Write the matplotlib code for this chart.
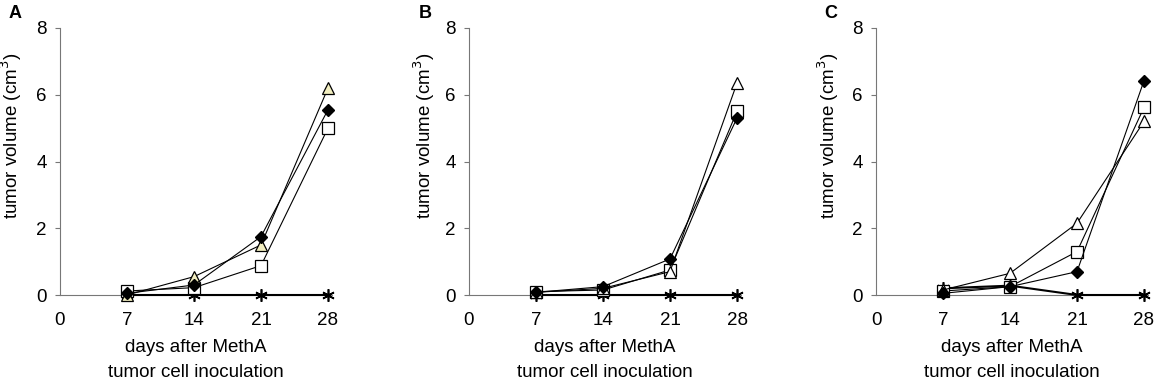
import numpy as np
import matplotlib
matplotlib.use("Agg")
import matplotlib.pyplot as plt

plt.rcParams["font.family"] = ["Liberation Sans", "DejaVu Sans"]

days = [7, 14, 21, 28]
xticks = [0, 7, 14, 21, 28]
yticks = [0, 2, 4, 6, 8]

# panel A
a_diamond = [0.05, 0.30, 1.75, 5.55]
a_triangle = [0.00, 0.55, 1.50, 6.20]
a_square = [0.12, 0.22, 0.88, 5.00]
a_star = [0.0, 0.0, 0.0, 0.0]
# panel B
b_diamond = [0.08, 0.25, 1.08, 5.30]
b_triangle = [0.08, 0.20, 0.70, 6.35]
b_square = [0.10, 0.15, 0.75, 5.50]
b_star = [0.0, 0.0, 0.0, 0.0]
# panel C
c_diamond = [0.05, 0.25, 0.70, 6.42]
c_triangle = [0.15, 0.65, 2.15, 5.20]
c_square = [0.12, 0.25, 1.30, 5.62]
c_star = [0.20, 0.28, 0.0, 0.0]

panels = [
    ("A", a_diamond, a_triangle, a_square, a_star, "#f2eec0", 60, -36, 15),
    ("B", b_diamond, b_triangle, b_square, b_star, "white", 469, -32, 425),
    ("C", c_diamond, c_triangle, c_square, c_star, "white", 876, -35, 831),
]

W, H = 1158, 386
fig = plt.figure(figsize=(W / 100, H / 100), dpi=100)
px_day = 268 / 28.0
xmax = 28.4
for letter, dia, tri, sq, st, tri_col, x0, ylab_dx, lx in panels:
    ax = fig.add_axes([x0 / W, (H - 295) / H, xmax * px_day / W, 267 / H])
    ax.plot(days, st, "-", color="black", lw=1.5, marker=(6, 2, 0), ms=9, mew=1.2, zorder=3)
    ax.plot(days, sq, "-", color="black", lw=0.8, marker="s", ms=8, mfc="white", mec="black", mew=0.9, zorder=4)
    ax.plot(days, tri, "-", color="black", lw=0.8, marker="^", ms=9, mfc=tri_col, mec="black", mew=0.9, zorder=4)
    ax.plot(days, dia, "-", color="black", lw=0.8, marker="D", ms=6, mfc="black", mec="black", zorder=5)
    ax.set_xlim(0, xmax)
    ax.set_ylim(0, 8)
    ax.set_xticks(xticks)
    ax.set_yticks(yticks)
    ax.tick_params(axis="x", length=0, pad=12, labelsize=13.5)
    ax.tick_params(axis="y", length=3.5, width=0.8, color="#777777", pad=6, labelsize=13.5)
    for s in ["top", "right"]:
        ax.spines[s].set_visible(False)
    for s in ["left", "bottom"]:
        ax.spines[s].set_color("#777777")
        ax.spines[s].set_linewidth(0.8)
    ax.set_ylabel("tumor volume (cm$^3$)", fontsize=13.5)
    ax.yaxis.set_label_coords(ylab_dx / (xmax * px_day), 0.595)
    ax.text(0.5, -0.195, "days after MethA", transform=ax.transAxes, ha="center", va="center", fontsize=13.5)
    ax.text(0.5, -0.29, "tumor cell inoculation", transform=ax.transAxes, ha="center", va="center", fontsize=13.5)
    fig.text(lx / W, 1 - 14 / H, letter, ha="center", va="center", fontsize=13, fontweight="bold")
    ax.patch.set_alpha(0)
    for ln in ax.lines:
        ln.set_clip_on(False)

fig.savefig("out.png", dpi=100, facecolor="white")
